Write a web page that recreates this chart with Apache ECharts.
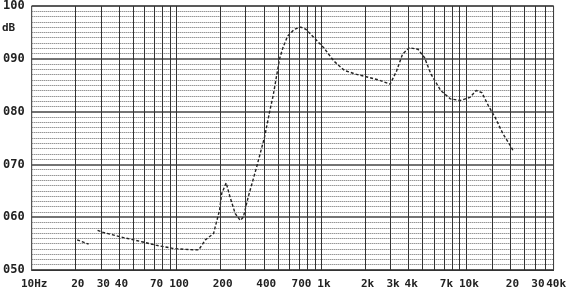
<!DOCTYPE html>
<html>
<head>
<meta charset="utf-8">
<script src="https://cdn.jsdelivr.net/npm/echarts@6/dist/echarts.min.js"></script>
<style>html,body{margin:0;padding:0;background:#fff}#c{width:569px;height:294px}</style>
</head>
<body>
<div id="c"></div>
<script>
// vertical grid line frequencies (Hz)
const gridFreqs = [20,30,40,50,60,70,80,90,100,200,300,400,500,600,700,800,900,1000,2000,3000,4000,5000,6000,7000,8000,9000,10000,15000,20000,25000,30000,35000];
// x tick labels
const labelFreqs = [10,20,30,40,70,100,200,400,700,1000,2000,3000,4000,7000,10000,20000,30000,40000];
const labelTexts = ['10Hz','20','30','40','70','100','200','400','700','1k','2k','3k','4k','7k','10k','20','30','40k'];
// response curve
const freq = [20.6,24.7,26.5,28.5,31.3,40.6,58.6,72,94,115,142,158,180,185,198,205,220,234,254,275,289,312,357,405,439,464,514,542,584,650,720,780,889,1037,1215,1440,1720,2110,2480,2980,3300,3630,4040,4640,5150,5700,6650,7770,9070,10600,11700,12800,14200,15800,17900,20400,21000];
const spl  = [55.7,54.9,null,57.5,57.1,56.3,55.3,54.7,54.1,53.9,53.8,55.7,56.9,58.2,61.3,64.5,66.5,63.8,60.7,59.4,60.0,63.8,69.5,75.2,80.0,83.0,90.0,92.1,94.3,95.6,96.0,95.6,94.0,92.1,89.6,87.8,87.1,86.5,86.0,85.2,87.7,90.9,92.1,91.8,90.2,87.1,84.0,82.4,82.1,82.7,84.0,83.6,81.1,78.9,75.8,73.3,72.6];

const chart = echarts.init(document.getElementById('c'), null, {renderer:'canvas'});
const lblMap = {};
labelFreqs.forEach((f,i)=>{ lblMap[f] = labelTexts[i]; });

chart.setOption({
  animation: false,
  backgroundColor: '#fff',
  grid: {left: 29, right: 11, top: 5, bottom: 24, show: true, borderColor: '#333', borderWidth: 1},
  xAxis: {
    type: 'log', logBase: 10, min: 10, max: 40000,
    axisLine: {show: true, lineStyle: {color: '#333'}},
    axisTick: {show: false},
    splitLine: {show: false},
    axisLabel: {
      customValues: labelFreqs,
      formatter: v => lblMap[Math.round(v)] !== undefined ? lblMap[Math.round(v)] : '',
      showMinLabel: true, showMaxLabel: true, hideOverlap: false,
      margin: 9, padding: [0,0,0,5],
      color: '#222', fontFamily: 'DejaVu Sans Mono', fontWeight: 'bold', fontSize: 11
    }
  },
  yAxis: {
    type: 'value', min: 50, max: 100, interval: 10,
    axisLine: {show: false}, axisTick: {show: false},
    axisLabel: {
      formatter: v => String(v).padStart(3,'0'),
      margin: 7, color: '#222', fontFamily: 'DejaVu Sans Mono', fontWeight: 'bold', fontSize: 12
    },
    splitLine: {show: true, lineStyle: {color: '#444', width: 1.5}},
    minorTick: {show: false, splitNumber: 10},
    minorSplitLine: {show: true, lineStyle: {color: '#666', width: 1, type: [1,1]}}
  },
  graphic: [{type:'text', left: 2, top: 23, style:{text:'dB', font:'bold 11px "DejaVu Sans Mono"', fill:'#222'}}],
  series: [{
    type: 'line',
    data: freq.map((f,i)=>[f, spl[i]]),
    connectNulls: false,
    showSymbol: false,
    lineStyle: {color: '#222', width: 1.4, type: [3,2]},
    markLine: {
      silent: true, symbol: 'none', animation: false,
      label: {show: false},
      lineStyle: {color: '#333', width: 1, type: 'solid'},
      data: gridFreqs.map(f => ({xAxis: f}))
    }
  }]
});
</script>
</body>
</html>
